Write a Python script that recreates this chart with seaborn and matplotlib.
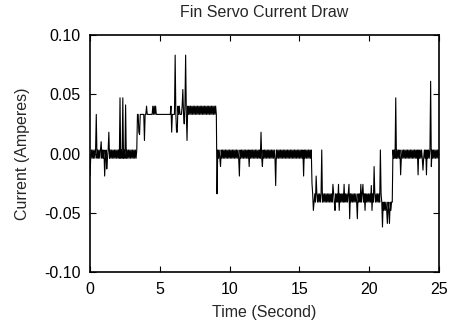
import numpy as np
import pandas as pd
import matplotlib
matplotlib.use("Agg")
import matplotlib.pyplot as plt
import seaborn as sns
from matplotlib.ticker import FormatStrFormatter

# current samples (A), one every 0.05 s
seg_idle_start = [  # 0.00 - 3.35 s
    -0.019, -0.004, 0.003, -0.004, 0.003, -0.004, 0.003, -0.004, 0.003, 0.033,
    -0.004, 0.003, -0.004, 0.003, -0.004, 0.003, 0.010, -0.004, 0.003, -0.004,
    0.003, -0.019, -0.004, 0.003, -0.013, -0.004, 0.003, 0.018, -0.004, 0.003,
    -0.004, 0.003, -0.004, 0.003, -0.004, 0.003, -0.004, 0.003, -0.004, 0.003,
    -0.004, 0.003, -0.004, 0.047, -0.004, 0.003, -0.004, 0.047, -0.004, 0.003,
    -0.004, 0.041, -0.004, 0.003, -0.004, 0.003, -0.004, 0.003, -0.004, 0.003,
    -0.004, 0.003, -0.004, 0.003, -0.004, 0.003, -0.004, 0.003]
seg_positive = [  # 3.40 - 9.05 s
    0.033, 0.033, 0.018, 0.016, 0.033, 0.033, 0.033, 0.033, 0.033, 0.033,
    0.011, 0.033, 0.033, 0.040, 0.033, 0.033, 0.033, 0.033, 0.033, 0.033,
    0.033, 0.033, 0.040, 0.033, 0.040, 0.033, 0.040, 0.033, 0.033, 0.033,
    0.033, 0.033, 0.033, 0.033, 0.033, 0.033, 0.033, 0.033, 0.033, 0.033,
    0.033, 0.033, 0.033, 0.033, 0.033, 0.033, 0.033, 0.033, 0.040, 0.018,
    0.033, 0.033, 0.033, 0.033, 0.083, 0.033, 0.018, 0.018, 0.040, 0.033,
    0.040, 0.033, 0.033, 0.033, 0.040, 0.054, 0.033, 0.025, 0.040, 0.083,
    0.033, 0.011, 0.040, 0.033, 0.040, 0.033, 0.040, 0.033, 0.040, 0.033,
    0.040, 0.033, 0.040, 0.033, 0.040, 0.033, 0.040, 0.033, 0.040, 0.033,
    0.040, 0.033, 0.040, 0.033, 0.040, 0.033, 0.040, 0.033, 0.040, 0.033,
    0.040, 0.033, 0.040, 0.033, 0.040, 0.033, 0.040, 0.033, 0.040, 0.033,
    0.040, 0.033, 0.040, 0.033]
seg_idle_mid = [  # 9.10 - 15.85 s
    -0.034, 0.003, -0.004, 0.003, -0.004, -0.011, 0.003, -0.004, 0.003, -0.004,
    0.003, -0.004, 0.003, -0.004, 0.003, -0.004, 0.003, -0.004, 0.003, -0.004,
    0.003, -0.004, 0.003, -0.004, 0.003, -0.004, 0.003, -0.004, 0.003, -0.004,
    0.003, -0.004, -0.019, 0.003, -0.004, 0.003, -0.004, 0.003, -0.004, 0.003,
    -0.004, 0.003, -0.004, 0.003, -0.004, 0.003, -0.011, 0.003, -0.004, 0.003,
    -0.004, 0.003, -0.004, 0.003, -0.004, 0.003, -0.004, 0.003, -0.004, 0.003,
    -0.004, 0.003, -0.004, 0.018, -0.004, -0.011, 0.003, -0.004, 0.003, -0.004,
    0.003, -0.004, 0.003, -0.004, 0.003, -0.004, 0.003, -0.004, 0.003, -0.004,
    0.003, -0.004, 0.003, -0.004, -0.027, 0.003, -0.004, 0.003, -0.004, 0.003,
    -0.004, 0.003, -0.004, 0.003, -0.004, 0.003, -0.004, 0.003, -0.004, 0.003,
    -0.004, 0.003, -0.004, 0.003, -0.004, 0.003, -0.004, 0.003, -0.004, 0.003,
    -0.004, 0.003, -0.004, 0.003, -0.004, 0.003, -0.004, 0.003, -0.004, 0.003,
    -0.004, 0.003, -0.004, 0.003, -0.019, 0.003, -0.004, 0.003, -0.004, 0.003,
    -0.004, 0.003, -0.004, 0.003, -0.004, 0.003]
seg_negative = [  # 15.90 - 21.65 s
    -0.025, -0.034, -0.048, -0.041, -0.034, -0.041, -0.019, -0.034, -0.041, -0.034,
    -0.041, -0.034, -0.041, -0.034, 0.003, -0.041, -0.034, -0.041, -0.034, -0.041,
    -0.034, -0.041, -0.034, -0.041, -0.034, -0.041, -0.034, -0.041, -0.034, -0.041,
    -0.026, -0.034, -0.041, -0.048, -0.034, -0.041, -0.034, -0.041, -0.026, -0.048,
    -0.034, -0.041, -0.034, -0.041, -0.034, -0.041, -0.026, -0.041, -0.034, -0.041,
    -0.034, -0.041, -0.034, -0.026, -0.055, -0.034, -0.041, -0.034, -0.041, -0.034,
    -0.041, -0.034, -0.041, -0.034, -0.041, -0.055, -0.034, -0.041, -0.034, -0.041,
    -0.026, -0.041, -0.034, -0.026, -0.041, -0.034, -0.048, -0.034, -0.041, -0.034,
    -0.041, -0.034, -0.041, -0.034, -0.041, -0.027, -0.048, -0.034, -0.041, -0.011,
    -0.034, -0.041, -0.034, -0.041, -0.034, -0.041, -0.034, -0.041, 0.003, -0.034,
    -0.041, -0.062, -0.041, -0.048, -0.041, -0.048, -0.041, -0.048, -0.059, -0.041,
    -0.048, -0.059, -0.041, -0.048, -0.041, -0.041]
seg_idle_end = [  # 21.70 - 25.00 s
    0.003, -0.004, 0.003, -0.004, 0.047, -0.004, 0.003, -0.004, 0.003, -0.004,
    0.003, -0.018, -0.004, 0.003, -0.004, 0.003, -0.004, 0.003, -0.004, 0.003,
    -0.004, 0.003, -0.004, 0.003, -0.004, 0.003, -0.004, 0.003, -0.004, 0.003,
    -0.004, 0.003, -0.004, 0.003, -0.004, 0.003, -0.018, 0.003, -0.004, 0.003,
    -0.004, 0.003, -0.004, -0.014, -0.004, 0.003, -0.004, 0.003, -0.018, 0.003,
    -0.004, 0.003, -0.004, 0.003, 0.061, -0.011, 0.003, -0.004, 0.003, -0.004,
    0.003, -0.004, 0.003, -0.004, 0.003, -0.004, 0.003]
sample_period = 0.05

current = seg_idle_start + seg_positive + seg_idle_mid + seg_negative + seg_idle_end
assert len(current) == 501, len(current)
df = pd.DataFrame({"time": np.arange(len(current)) * sample_period, "current": current})

sns.set_style("ticks")
plt.rcParams['font.family'] = ['Liberation Sans', 'DejaVu Sans']
plt.rcParams['axes.unicode_minus'] = False

fig = plt.figure(figsize=(4.5, 3.27), dpi=100)
ax = fig.add_axes([0.2, 0.168, 0.7756, 0.725])
sns.lineplot(data=df, x="time", y="current", color="black", linewidth=0.8,
             errorbar=None, ax=ax)

ax.set_xlim(0, 25)
ax.set_ylim(-0.1, 0.1)
ax.set_xticks([0, 5, 10, 15, 20, 25])
ax.set_yticks([-0.10, -0.05, 0.0, 0.05, 0.10])
ax.yaxis.set_major_formatter(FormatStrFormatter('%.2f'))
ax.tick_params(direction='in', top=True, right=True, length=4, width=0.8,
               labelsize=11.5, pad=7, colors='black')
for s in ax.spines.values():
    s.set_linewidth(1.2)
    s.set_color('black')

ax.set_title("Fin Servo Current Draw", fontsize=11.5, pad=13)
ax.set_xlabel("Time (Second)", fontsize=11.5, labelpad=6)
ax.set_ylabel("Current (Amperes)", fontsize=11.5, labelpad=10)

fig.savefig("out.png", dpi=100)
plt.close(fig)
